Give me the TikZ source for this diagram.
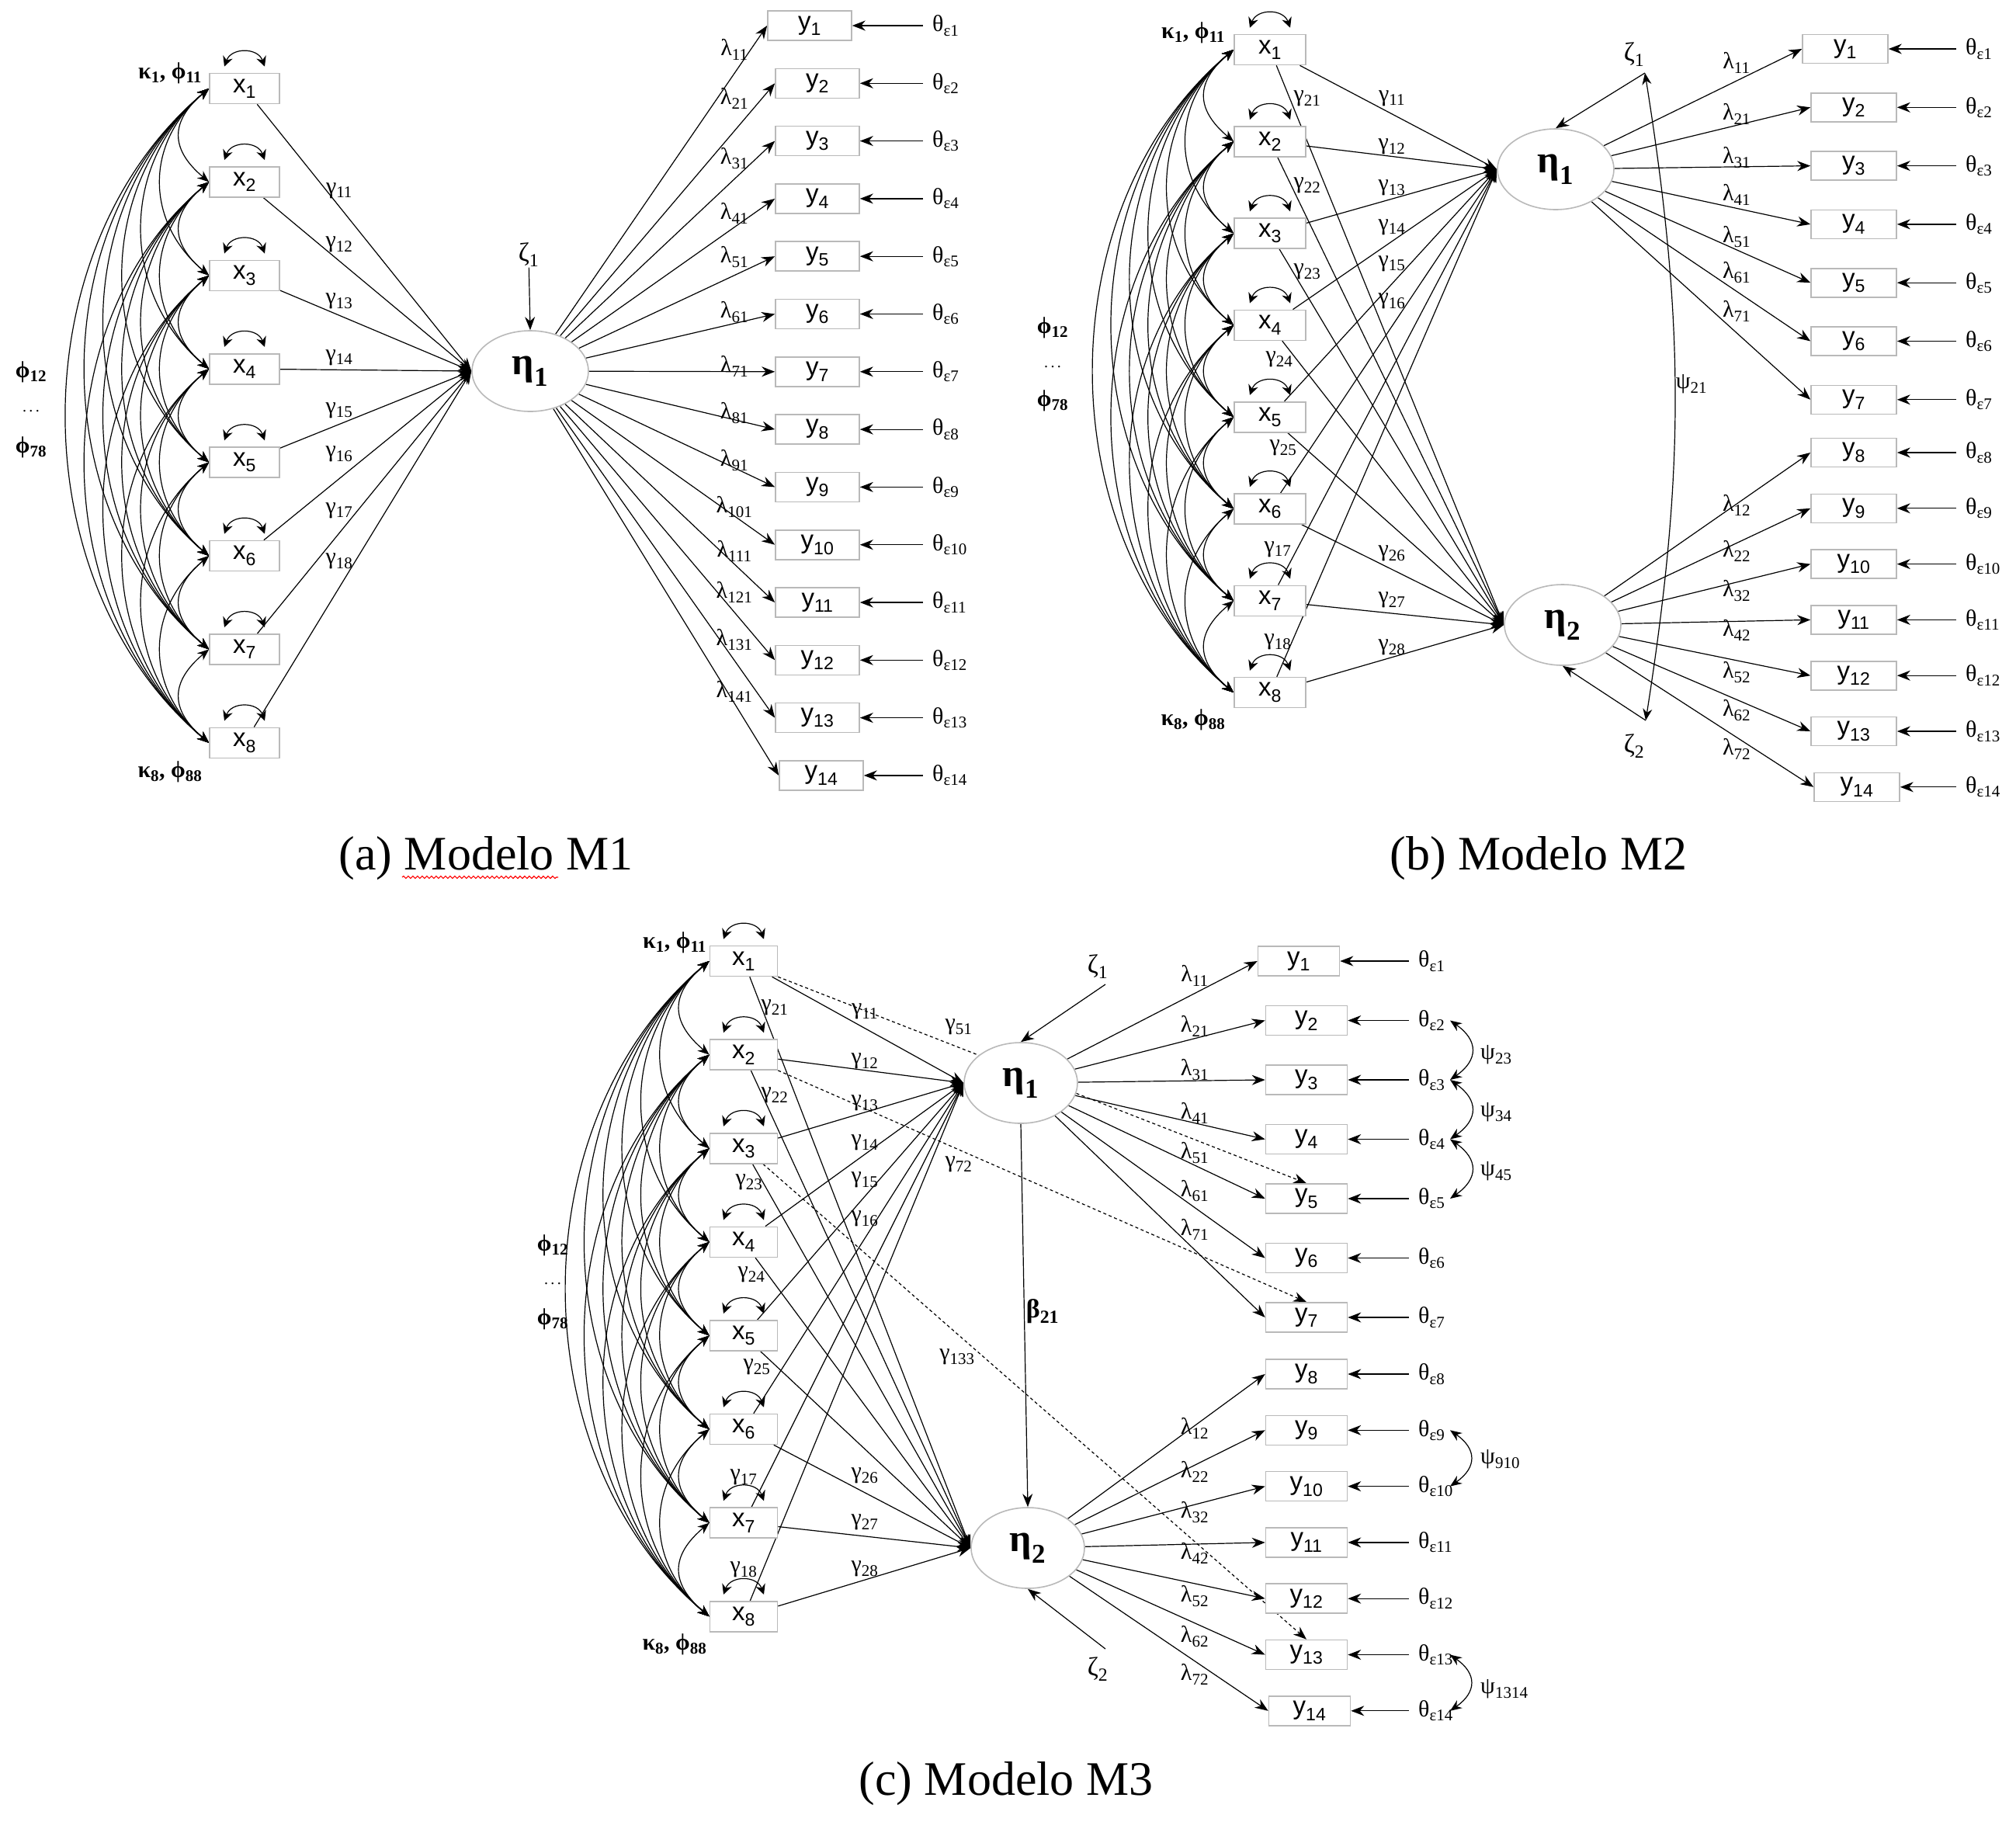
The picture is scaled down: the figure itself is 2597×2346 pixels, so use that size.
\documentclass[tikz,border=0pt]{standalone}
\usepackage{fontspec}
\setmainfont{Liberation Serif}
\newfontfamily\boxfont{Liberation Sans}
\usetikzlibrary{arrows.meta,calc,shapes.geometric,decorations.pathmorphing}
\pgfdeclarelayer{bg}
\pgfsetlayers{bg,main}
\newcommand{\sbs}[1]{\textsubscript{#1}}
\tikzset{
  vbox/.style={draw=gray!55, line width=1.6pt, fill=white, minimum width=#1, minimum height=39pt, inner sep=0pt, font=\boxfont\fontsize{33}{35}\selectfont},
  vbox/.default=90pt,
  latent/.style={ellipse, draw=gray!55, line width=1.6pt, fill=white, minimum width=150pt, minimum height=104pt, inner sep=0pt, font=\fontsize{50}{52}\selectfont\bfseries},
  lbl/.style={font=\fontsize{30}{32}\selectfont, inner sep=1pt},
  bfl/.style={font=\fontsize{30}{32}\selectfont\bfseries, inner sep=1pt},
  zlab/.style={font=\fontsize{34}{36}\selectfont, inner sep=1pt},
  thlab/.style={lbl, anchor=west, inner xsep=12pt},
  captxt/.style={font=\fontsize{62}{64}\selectfont, inner sep=0pt},
  arr/.style={line width=1.2pt, -{Stealth[length=17pt,width=13pt]}},
  darr/.style={line width=1.2pt, {Stealth[length=15pt,width=12pt]}-{Stealth[length=15pt,width=12pt]}},
  selfloop/.style={line width=1.2pt, {Stealth[length=13pt,width=13pt]}-{Stealth[length=13pt,width=13pt]}},
  dotarr/.style={arr, dash pattern=on 4pt off 3.5pt},
}
\newcommand{\covs}[1]{%
  \foreach \i in {1,...,7}{%
    \pgfmathtruncatemacro\nxt{\i+1}%
    \foreach \j in {\nxt,...,8}{%
      \pgfmathsetmacro\lsv{0.9+0.5/(\j-\i)}%
      \draw[darr] (x#1\i.west) to[bend right=50, looseness=\lsv] (x#1\j.west);
    }}}
\newcommand{\selfs}[1]{%
  \foreach \i in {1,...,8}{%
    \draw[selfloop] ($(x#1\i.north)+(-26,-8)$) to[bend left=70, looseness=1.3] ($(x#1\i.north)+(26,-8)$);}}
\begin{document}
\begin{tikzpicture}[x=1pt,y=-1pt]
\useasboundingbox (0,0) rectangle (2597,2346);

% ================= Panel A =================
\foreach \i in {1,...,8} \node[vbox=90pt] (xA\i) at (315,{114+120.4*(\i-1)}) {x\sbs{\i}};
\foreach \j in {1,...,14}{
  \pgfmathsetmacro\yy{33+74.3*(\j-1)}
  \pgfmathsetmacro\xx{\j==1 ? 1043 : (\j==14 ? 1058 : 1053)}
  \node[vbox=108pt, minimum height=38pt] (yA\j) at (\xx,\yy) {y\sbs{\j}};
  \node[thlab] (thA\j) at (1189,\yy) {θ\sbs{ε\j}};
}
\node[latent] (etaA) at (683,478) {η\sbs{1}};
\node[zlab] (zA) at (681,328) {ζ\sbs{1}};
\foreach \yy/\s [count=\k] in {64/11,127/21,204/31,275/41,331/51,402/61,472/71,532/81,593/91,653/101,710/111,763/121,824/131,891/141}
  \node[lbl] (lA\k) at (946,\yy) {λ\sbs{\s}};
\foreach \yy [count=\k] in {246,315,388,461,529,585,658,723}
  \node[lbl] (gA\k) at (437,\yy) {γ\sbs{1\k}};
\node[bfl] (kA1) at (219,94) {κ\sbs{1}, ϕ\sbs{11}};
\node[bfl] (kA8) at (219,994) {κ\sbs{8}, ϕ\sbs{88}};
\node[bfl] (pA1) at (40,479) {ϕ\sbs{12}};
\node[font=\fontsize{20}{20}\selectfont] (pA2) at (40,530) {.\,.\,.};
\node[bfl] (pA3) at (40,576) {ϕ\sbs{78}};
\node[captxt] (capA) at (626,1106) {(a) Modelo M1};

% ================= Panel B =================
\foreach \i in {1,...,8} \node[vbox=92pt] (xB\i) at (1636,{64+118.3*(\i-1)}) {x\sbs{\i}};
\foreach \j in {1,...,14}{
  \pgfmathsetmacro\yy{\j<8 ? 63+75.3*(\j-1) : 583+71.8*(\j-8)}
  \pgfmathsetmacro\xx{\j==1 ? 2377 : (\j==14 ? 2392 : 2388)}
  \node[vbox=110pt, minimum height=37pt] (yB\j) at (\xx,\yy) {y\sbs{\j}};
  \node[thlab] (thB\j) at (2520,\yy) {θ\sbs{ε\j}};
}
\node[latent] (etaB1) at (2004,218) {η\sbs{1}};
\node[latent] (etaB2) at (2013,805) {η\sbs{2}};
\node[zlab] (zB1) at (2105,70) {ζ\sbs{1}};
\node[zlab] (zB2) at (2105,961) {ζ\sbs{2}};
\coordinate (zpB1) at (2119,94);
\coordinate (zpB2) at (2120,928);
\node[lbl] (psB) at (2179,495) {ψ\sbs{21}};
\foreach \yy/\s [count=\k] in {81/11,147/21,203/31,251/41,305/51,351/61,401/71,651/12,710/22,761/32,812/42,866/52,915/62,965/72}
  \node[lbl] (lB\k) at (2237,\yy) {λ\sbs{\s}};
\foreach \xx/\yy/\s [count=\k] in {1793/127/11,1793/189/12,1793/242/13,1793/293/14,1793/340/15,1793/388/16,1684/127/21,1684/239/22,1684/350/23,1648/463/24,1653/577/25,1793/713/26,1793/773/27,1793/834/28,1646/708/17,1646/827/18}
  \node[lbl] (gB\k) at (\xx,\yy) {γ\sbs{\s}};
\node[bfl] (kB1) at (1537,42) {κ\sbs{1}, ϕ\sbs{11}};
\node[bfl] (kB8) at (1537,927) {κ\sbs{8}, ϕ\sbs{88}};
\node[bfl] (pB1) at (1356,422) {ϕ\sbs{12}};
\node[font=\fontsize{20}{20}\selectfont] (pB2) at (1356,473) {.\,.\,.};
\node[bfl] (pB3) at (1356,516) {ϕ\sbs{78}};
\node[captxt] (capB) at (1982,1106) {(b) Modelo M2};

% ================= Panel C =================
\foreach \i in {1,...,8} \node[vbox=87pt] (xC\i) at (958,{1238+120.6*(\i-1)}) {x\sbs{\i}};
\foreach \j in {1,...,14}{
  \pgfmathsetmacro\yy{\j<8 ? 1238+76.5*(\j-1) : 1770+72.3*(\j-8)}
  \pgfmathsetmacro\xx{\j==1 ? 1673 : (\j==14 ? 1687 : 1683)}
  \node[vbox=105pt, minimum height=38pt] (yC\j) at (\xx,\yy) {y\sbs{\j}};
  \node[thlab] (thC\j) at (1815,\yy) {θ\sbs{ε\j}};
  \coordinate (pC\j) at (1868,\yy);
}
\node[latent, minimum width=146pt] (etaC1) at (1315,1395) {η\sbs{1}};
\node[latent, minimum width=146pt] (etaC2) at (1324,1994) {η\sbs{2}};
\node[zlab] (zC1) at (1414,1245) {ζ\sbs{1}};
\node[zlab] (zC2) at (1414,2150) {ζ\sbs{2}};
\coordinate (zpC1) at (1424,1268);
\coordinate (zpC2) at (1424,2124);
\node[bfl, font=\fontsize{34}{36}\selectfont\bfseries] (bC) at (1343,1689) {β\sbs{21}};
\foreach \xx/\yy/\s [count=\k] in {1906/1359/23,1906/1433/34,1906/1509/45,1906/1880/910,1906/2176/1314}
  \node[lbl, anchor=west] (psC\k) at (\xx,\yy) {ψ\sbs{\s}};
\foreach \yy/\s [count=\k] in {1257/11,1322/21,1378/31,1434/41,1485/51,1534/61,1584/71,1840/12,1896/22,1948/32,2001/42,2056/52,2108/62,2157/72}
  \node[lbl] (lC\k) at (1539,\yy) {λ\sbs{\s}};
\foreach \xx/\yy/\s [count=\k] in {1114/1303/11,1114/1367/12,1114/1421/13,1114/1472/14,1114/1520/15,1114/1570/16,998/1298/21,998/1411/22,965/1523/23,968/1642/24,975/1761/25,1114/1901/26,1114/1961/27,1114/2021/28,958/1903/17,958/2022/18,1235/1323/51,1235/1500/72,1233/1748/133}
  \node[lbl] (gC\k) at (\xx,\yy) {γ\sbs{\s}};
\node[bfl] (kC1) at (869,1214) {κ\sbs{1}, ϕ\sbs{11}};
\node[bfl] (kC8) at (869,2118) {κ\sbs{8}, ϕ\sbs{88}};
\node[bfl] (pC1l) at (712,1604) {ϕ\sbs{12}};
\node[font=\fontsize{20}{20}\selectfont] (pC2l) at (712,1654) {.\,.\,.};
\node[bfl] (pC3l) at (712,1699) {ϕ\sbs{78}};
\node[captxt] (capC) at (1296,2298) {(c) Modelo M3};

% ================= connectors =================
\begin{pgfonlayer}{bg}
  % A
  \covs{A}
  \selfs{A}
  \foreach \i in {1,...,8} \draw[arr] (xA\i) -- (etaA.west);
  \foreach \j in {1,...,14}{
    \draw[arr] (etaA) -- (yA\j.west);
    \draw[arr] (thA\j.west) -- (yA\j.east);
  }
  \draw[arr] (zA) -- (etaA.north);
  % B
  \covs{B}
  \selfs{B}
  \foreach \i in {1,...,8}{
    \draw[arr] (xB\i) -- (etaB1.west);
    \draw[arr] (xB\i) -- (etaB2.west);
  }
  \foreach \j in {1,...,7} \draw[arr] (etaB1) -- (yB\j.west);
  \foreach \j in {8,...,14} \draw[arr] (etaB2) -- (yB\j.west);
  \foreach \j in {1,...,14} \draw[arr] (thB\j.west) -- (yB\j.east);
  \draw[arr] (zpB1) -- (etaB1.north);
  \draw[arr] (zpB2) -- (etaB2.south);
  \draw[darr] (zpB1) to[bend left=9] (zpB2);
  % C
  \covs{C}
  \selfs{C}
  \foreach \i in {1,...,8}{
    \draw[arr] (xC\i) -- (etaC1.west);
    \draw[arr] (xC\i) -- (etaC2.west);
  }
  \foreach \j in {1,...,7} \draw[arr] (etaC1) -- (yC\j.west);
  \foreach \j in {8,...,14} \draw[arr] (etaC2) -- (yC\j.west);
  \foreach \j in {1,...,14} \draw[arr] (thC\j.west) -- (yC\j.east);
  \draw[arr] (zpC1) -- (etaC1.north);
  \draw[arr] (zpC2) -- (etaC2.south);
  \draw[arr] (etaC1.south) -- (etaC2.north);
  \foreach \a/\b in {2/3,3/4,4/5,9/10,13/14}
    \draw[darr] (pC\a) to[bend left=55, looseness=1.5] (pC\b);
  \draw[dotarr] (xC1.south east) -- (yC5.north);
  \draw[dotarr] (xC2.south east) -- (yC7.north);
  \draw[dotarr] ($(xC3.south)+(25,0)$) -- (yC13.north);
\end{pgfonlayer}

% spell-check underline under "Modelo"
\draw[red, line width=1.2pt, decorate, decoration={snake, amplitude=1.5pt, segment length=6pt}] (518,1130) -- (719,1130);
\end{tikzpicture}
\end{document}
